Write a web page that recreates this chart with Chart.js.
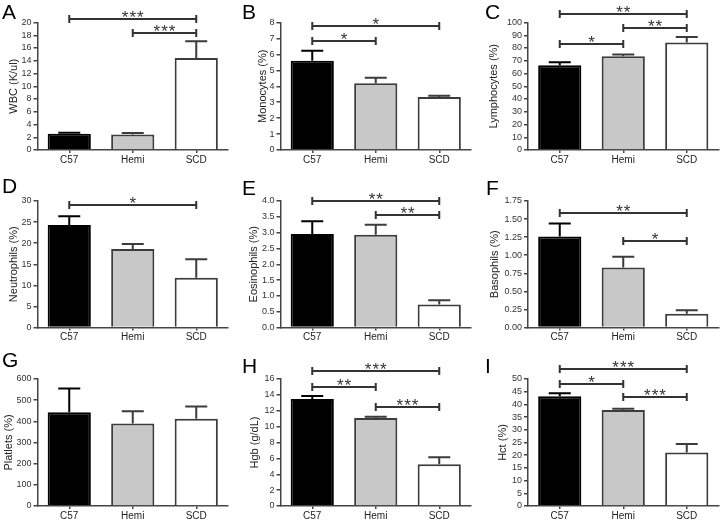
<!DOCTYPE html>
<html><head><meta charset="utf-8">
<script src="https://cdn.jsdelivr.net/npm/chart.js@4/dist/chart.umd.min.js"></script>
<style>
html,body{margin:0;padding:0;background:#fff;}
#wrap{position:relative;width:720px;height:520px;overflow:hidden;background:#fff;}
canvas{position:absolute;}
</style></head><body><div id="wrap"></div>
<script>
// ---- data ----
const categories = ['C57', 'Hemi', 'SCD'];

const wbcMean = [2.55, 2.45, 14.45];   const wbcSem = [0.15, 0.2, 2.6];
const monoMean = [5.6, 4.19, 3.33];    const monoSem = [0.63, 0.34, 0.07];
const lymphMean = [66.5, 73.6, 84.3];  const lymphSem = [2.3, 1.3, 4.4];
const neutMean = [24.3, 18.6, 11.8];   const neutSem = [2.1, 1.2, 4.4];
const eosMean = [2.96, 2.93, 0.73];    const eosSem = [0.4, 0.32, 0.13];
const basoMean = [1.26, 0.83, 0.19];   const basoSem = [0.18, 0.15, 0.05];
const pltMean = [443, 390, 412];       const pltSem = [112, 58, 58];
const hgbMean = [13.47, 11.1, 5.26];   const hgbSem = [0.38, 0.14, 0.89];
const hctMean = [43.2, 37.8, 21.1];    const hctSem = [1.2, 0.5, 3.3];

// significance brackets: [fromIndex, toIndex, level (axis units), label]
const wbcSig = [[0, 2, 20.5, '***'], [1, 2, 18.4, '***']];
const monoSig = [[0, 2, 7.81, '*'], [0, 1, 6.82, '*']];
const lymphSig = [[0, 2, 106.5, '**'], [1, 2, 95.3, '**'], [0, 1, 83, '*']];
const neutSig = [[0, 2, 29.1, '*']];
const eosSig = [[0, 2, 3.99, '**'], [1, 2, 3.55, '**']];
const basoSig = [[0, 2, 1.58, '**'], [1, 2, 1.19, '*']];
const pltSig = [];
const hgbSig = [[0, 2, 16.97, '***'], [0, 1, 14.99, '**'], [1, 2, 12.42, '***']];
const hctSig = [[0, 2, 53.9, '***'], [0, 1, 48.0, '*'], [1, 2, 42.8, '***']];

const panelLetters = ['A', 'B', 'C', 'D', 'E', 'F', 'G', 'H', 'I'];
const yTitles = ['WBC (K/ul)', 'Monocytes (%)', 'Lymphocytes (%)', 'Neutrophils (%)', 'Eosinophils (%)', 'Basophils (%)', 'Platlets (%)', 'Hgb (g/dL)', 'Hct (%)'];
const yMaxes = [20, 8, 100, 30, 4, 1.75, 600, 16, 50];
const ySteps = [2, 1, 10, 5, 0.5, 0.25, 100, 2, 5];
const yDecimals = [0, 0, 0, 0, 1, 2, 0, 0, 0];

const means = [wbcMean, monoMean, lymphMean, neutMean, eosMean, basoMean, pltMean, hgbMean, hctMean];
const sems = [wbcSem, monoSem, lymphSem, neutSem, eosSem, basoSem, pltSem, hgbSem, hctSem];
const sigs = [wbcSig, monoSig, lymphSig, neutSig, eosSig, basoSig, pltSig, hgbSig, hctSig];

// ---- layout / style ----
const FONT = '"Liberation Sans", Arial, Helvetica, sans-serif';
const colX = [0, 240, 480], colW = 240;
const rowY = [0, 172, 346], rowH = [172, 174, 174];
const axisLeft = [37.5, 280.5, 528];
const areaTop = [22.5, 201, 379];
const areaBottom = [150, 327.5, 506];
const areaWidth = 190.5;
const letterPos = [[2, 18.5], [242, 18.5], [485, 18.5], [2, 193], [242, 195], [486, 195], [2, 367], [242, 373], [485, 373]];
const titlePad = [7.2, 15.9, 7.1, 7.1, 7.1, 8.4, 2.1, 8.4, 16.7];
const fills = ['#000000', '#c8c8c8', '#ffffff'];
const borders = ['#000000', '#3c3c3c', '#3c3c3c'];
const AXIS = '#444';

const decor = {
  id: 'decor',
  afterDatasetsDraw(chart, args, o) {
    const ctx = chart.ctx;
    const xs = chart.scales.x, ys = chart.scales.y;
    const meta = chart.getDatasetMeta(0);
    ctx.save();
    // error bars (upper only)
    meta.data.forEach((bar, i) => {
      const top = ys.getPixelForValue(o.mean[i] + o.sem[i]);
      ctx.strokeStyle = borders[i];
      ctx.lineWidth = 2;
      ctx.beginPath();
      ctx.moveTo(bar.x, bar.y);
      ctx.lineTo(bar.x, top);
      ctx.moveTo(bar.x - 11, top);
      ctx.lineTo(bar.x + 11, top);
      ctx.stroke();
    });
    // significance brackets
    o.sig.forEach(([a, b, lvl, label]) => {
      const y = Math.round(ys.getPixelForValue(lvl));
      const x1 = xs.getPixelForValue(a), x2 = xs.getPixelForValue(b);
      ctx.strokeStyle = '#333';
      ctx.lineWidth = 2;
      ctx.beginPath();
      ctx.moveTo(x1, y); ctx.lineTo(x2, y);
      ctx.moveTo(x1, y - 4); ctx.lineTo(x1, y + 4);
      ctx.moveTo(x2, y - 4); ctx.lineTo(x2, y + 4);
      ctx.stroke();
      ctx.fillStyle = '#333';
      ctx.font = '17px ' + FONT;
      ctx.textAlign = 'center';
      ctx.textBaseline = 'alphabetic';
      try { ctx.letterSpacing = '1px'; } catch (e) {}
      ctx.fillText(label, (x1 + x2) / 2 + 0.5, y + 4);
      try { ctx.letterSpacing = '0px'; } catch (e) {}
    });
    // panel letter
    ctx.fillStyle = '#000';
    ctx.font = '21px ' + FONT;
    ctx.textAlign = 'left';
    ctx.textBaseline = 'alphabetic';
    ctx.fillText(o.letter, o.lx, o.ly);
    ctx.restore();
  }
};

const wrap = document.getElementById('wrap');
for (let k = 0; k < 9; k++) {
  const c = k % 3, r = Math.floor(k / 3);
  const cv = document.createElement('canvas');
  cv.width = colW; cv.height = rowH[r];
  cv.style.left = colX[c] + 'px'; cv.style.top = rowY[r] + 'px';
  cv.style.width = colW + 'px'; cv.style.height = rowH[r] + 'px';
  wrap.appendChild(cv);
  const yW = axisLeft[c] - colX[c];
  const xH = rowY[r] + rowH[r] - areaBottom[r];
  const dec = yDecimals[k];
  new Chart(cv, {
    type: 'bar',
    data: {
      labels: categories,
      datasets: [{
        data: means[k],
        backgroundColor: fills,
        borderColor: borders,
        borderWidth: 2,
        categoryPercentage: 1,
        barPercentage: 0.68
      }]
    },
    options: {
      responsive: false,
      animation: false,
      devicePixelRatio: 1,
      layout: { padding: { left: 0, top: areaTop[r] - rowY[r], right: colX[c] + colW - (axisLeft[c] + areaWidth), bottom: 0 } },
      plugins: {
        legend: { display: false },
        tooltip: { enabled: false },
        decor: { mean: means[k], sem: sems[k], sig: sigs[k], letter: panelLetters[k], lx: letterPos[k][0] - colX[c], ly: letterPos[k][1] - rowY[r] }
      },
      scales: {
        x: {
          afterFit: s => { s.height = xH; },
          grid: { display: true, drawOnChartArea: false, drawTicks: true, tickLength: 3, offset: false, color: AXIS, lineWidth: 1.5 },
          border: { display: true, color: AXIS, width: 1.5 },
          ticks: { color: '#222', font: { family: FONT, size: 10 }, padding: 1, maxRotation: 0 }
        },
        y: {
          min: 0, max: yMaxes[k],
          afterFit: s => { s.width = yW; },
          grid: { display: true, drawOnChartArea: false, drawTicks: true, tickLength: 4, color: AXIS, lineWidth: 1.5 },
          border: { display: true, color: AXIS, width: 1.5 },
          ticks: { stepSize: ySteps[k], autoSkip: false, color: '#333', padding: 2, font: { family: FONT, size: 9 },
                   callback: v => Number(v).toFixed(dec) },
          title: { display: true, text: yTitles[k], color: '#222', font: { family: FONT, size: 11 }, padding: { top: titlePad[k], bottom: 0 } }
        }
      }
    },
    plugins: [decor]
  });
}
</script>
</body></html>
